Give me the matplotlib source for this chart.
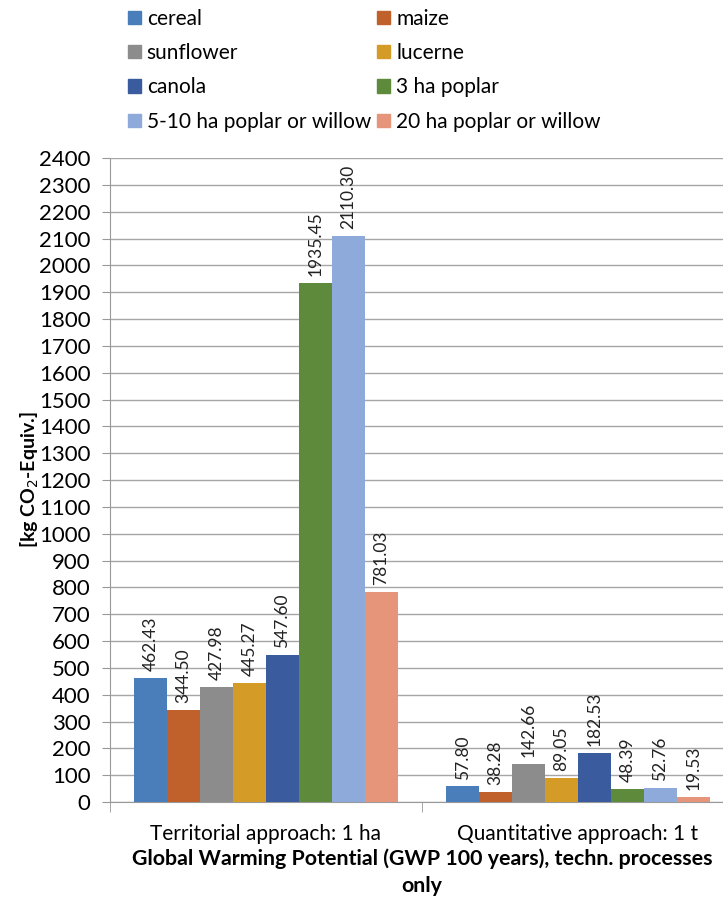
import matplotlib.pyplot as plt
import numpy as np
from matplotlib.patches import Patch

plt.rcParams["font.family"] = ["Lato", "DejaVu Sans"]

groups = ["Territorial approach: 1 ha", "Quantitative approach: 1 t"]
crops = [
    "cereal",
    "maize",
    "sunflower",
    "lucerne",
    "canola",
    "3 ha poplar",
    "5-10 ha poplar or willow",
    "20 ha poplar or willow",
]
territorial = [462.43, 344.50, 427.98, 445.27, 547.60, 1935.45, 2110.30, 781.03]
quantitative = [57.80, 38.28, 142.66, 89.05, 182.53, 48.39, 52.76, 19.53]
colors = [
    "#4A7EBB",
    "#C0612B",
    "#8C8C8C",
    "#D49B26",
    "#3A5B9E",
    "#5E8A3B",
    "#8EAADB",
    "#E6957A",
]

values = np.array([territorial, quantitative])  # shape (groups, crops)

fig = plt.figure(figsize=(7.23, 8.99), dpi=100)
ax = fig.add_axes([0.1521, 0.1079, 0.863, 0.7163])

n = len(crops)
bar_w = 0.1055
x = np.arange(len(groups))
for i, (name, col) in enumerate(zip(crops, colors)):
    xs = x + (i - (n - 1) / 2) * bar_w
    bars = ax.bar(xs, values[:, i], width=bar_w, color=col, label=name, zorder=3)
    for b, v in zip(bars, values[:, i]):
        ax.annotate(
            f"{v:.2f}",
            (b.get_x() + b.get_width() / 2, v),
            xytext=(0, 5),
            textcoords="offset points",
            rotation=90,
            ha="center",
            va="bottom",
            fontsize=12.5,
            color="#222222",
        )

ax.set_xlim(-0.5, 1.5)
ax.set_ylim(0, 2400)
ax.set_yticks(np.arange(0, 2401, 100))
ax.tick_params(axis="y", labelsize=16, length=6, color="#999999", pad=8)
ax.grid(axis="y", color="#A6A6A6", linewidth=1, zorder=0)

ax.set_xticks(x)
ax.set_xticklabels(groups, fontsize=15)
ax.tick_params(axis="x", length=0, pad=16)
ax.set_xticks([-0.5, 0.5, 1.5], minor=True)
ax.tick_params(axis="x", which="minor", length=7, color="#999999")

for side in ["top", "right"]:
    ax.spines[side].set_visible(False)
for side in ["left", "bottom"]:
    ax.spines[side].set_color("#999999")

ax.set_ylabel("[kg CO$_2$-Equiv.]", fontsize=14, fontweight="bold")
ax.yaxis.set_label_coords(-0.11, 0.5)
ax.set_xlabel(
    "Global Warming Potential (GWP 100 years), techn. processes\nonly",
    fontsize=15.4,
    fontweight="bold",
    labelpad=3,
    linespacing=1.45,
)

# legend rows read left-to-right, so reorder for column-wise filling
handles = [Patch(color=c) for c in colors]
order = [0, 2, 4, 6, 1, 3, 5, 7]
fig.legend(
    [handles[i] for i in order],
    [crops[i] for i in order],
    ncol=2,
    loc="upper left",
    bbox_to_anchor=(128 / 723, 1 - 9 / 899),
    borderaxespad=0,
    borderpad=0,
    frameon=False,
    fontsize=15,
    handlelength=0.6,
    handleheight=0.6,
    handletextpad=0.3,
    columnspacing=0.3,
    labelspacing=0.68,
)

fig.savefig("out.png", dpi=100)
